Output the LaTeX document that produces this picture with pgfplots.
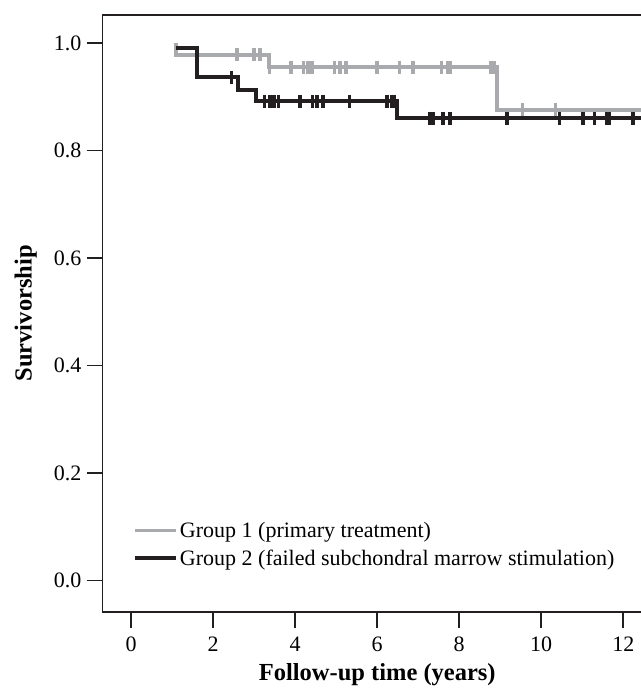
\documentclass[border=0pt]{standalone}
\usepackage{fontspec}
\setmainfont{Liberation Serif}
\usepackage{pgfplots}
\pgfplotsset{compat=1.18}
\definecolor{kmgray}{RGB}{168,170,173}
\definecolor{kmblack}{RGB}{35,31,32}
\begin{document}
\begin{tikzpicture}
\useasboundingbox (0,0) rectangle (641bp,690bp);
\begin{axis}[
    at={(102.5bp,78.3bp)}, anchor=south west,
    scale only axis, width=549.5bp, height=596.7bp,
    xmin=-0.695, xmax=12.7, ymin=-0.0577, ymax=1.052,
    xtick={0,2,...,12}, ytick={0,0.2,...,1.0},
    xtick pos=bottom, ytick pos=left, tick align=outside,
    major tick length=16bp,
    tick style={line width=1.6bp, color=kmblack},
    axis line style={line width=1.6bp, color=kmblack},
    /pgf/number format/assume math mode=true,
    yticklabel style={/pgf/number format/fixed, /pgf/number format/fixed zerofill, /pgf/number format/precision=1, inner sep=5bp},
    xticklabel style={inner sep=9bp},
    ticklabel style={font=\fontsize{22bp}{26bp}\selectfont, text=black},
    xlabel={Follow-up time (years)}, ylabel={Survivorship},
    label style={font=\bfseries\fontsize{24.5bp}{29bp}\selectfont},
    xlabel style={at={(axis description cs:0.5,-0.1161)}, anchor=base},
    ylabel style={at={(axis description cs:-0.1288,0.5)}, anchor=base, rotate=0},
    legend style={draw=none, fill=none, at={(axis description cs:0.0555,0.0716)}, anchor=south west,
        font=\fontsize{22bp}{26bp}\selectfont, inner sep=0pt, row sep=7bp, cells={anchor=west}},
    legend image code/.code={\draw[#1] (0bp,0bp) -- (37bp,0bp); \path (0bp,0bp) -- (41bp,0bp);},
]
\addlegendimage{kmgray, line width=3.8bp}
\addlegendentry{Group 1 (primary treatment)}
\addlegendimage{kmblack, line width=3.8bp}
\addlegendentry{Group 2 (failed subchondral marrow stimulation)}

% Group 1 survival steps
\addplot[const plot, kmgray, line width=4bp, forget plot] coordinates {
    (1.1,1.0) (1.1,0.978) (3.36,0.955) (8.92,0.876) (12.7,0.876)};
\addplot[only marks, mark=|, mark size=6.5bp, kmgray, mark options={line width=3.5bp}, forget plot] coordinates {
    (2.58,0.978) (3.00,0.978) (3.14,0.978)
    (3.38,0.955) (3.90,0.955) (4.21,0.955) (4.32,0.955) (4.41,0.955) (4.96,0.955) (5.09,0.955)
    (5.24,0.955) (6.00,0.955) (6.54,0.955) (6.87,0.955) (7.57,0.955) (7.73,0.955) (7.79,0.955)
    (8.78,0.955) (8.85,0.955)
    (9.54,0.876) (10.35,0.876)};

% Group 2 survival steps
\addplot[const plot, kmblack, line width=4bp, forget plot] coordinates {
    (1.1,0.990) (1.615,0.936) (2.61,0.913) (3.04,0.892) (6.48,0.860) (12.7,0.860)};
\addplot[only marks, mark=|, mark size=6.5bp, kmblack, mark options={line width=3.5bp}, forget plot] coordinates {
    (2.45,0.936)
    (3.26,0.892) (3.39,0.892) (3.48,0.892) (3.59,0.892) (4.12,0.892) (4.42,0.892) (4.53,0.892)
    (4.68,0.892) (5.33,0.892) (6.24,0.892) (6.35,0.892) (6.41,0.892)
    (7.28,0.860) (7.36,0.860) (7.61,0.860) (7.78,0.860) (9.17,0.860) (10.44,0.860) (11.02,0.860)
    (11.30,0.860) (11.59,0.860) (11.66,0.860) (12.24,0.860)};
\end{axis}
\end{tikzpicture}
\end{document}
